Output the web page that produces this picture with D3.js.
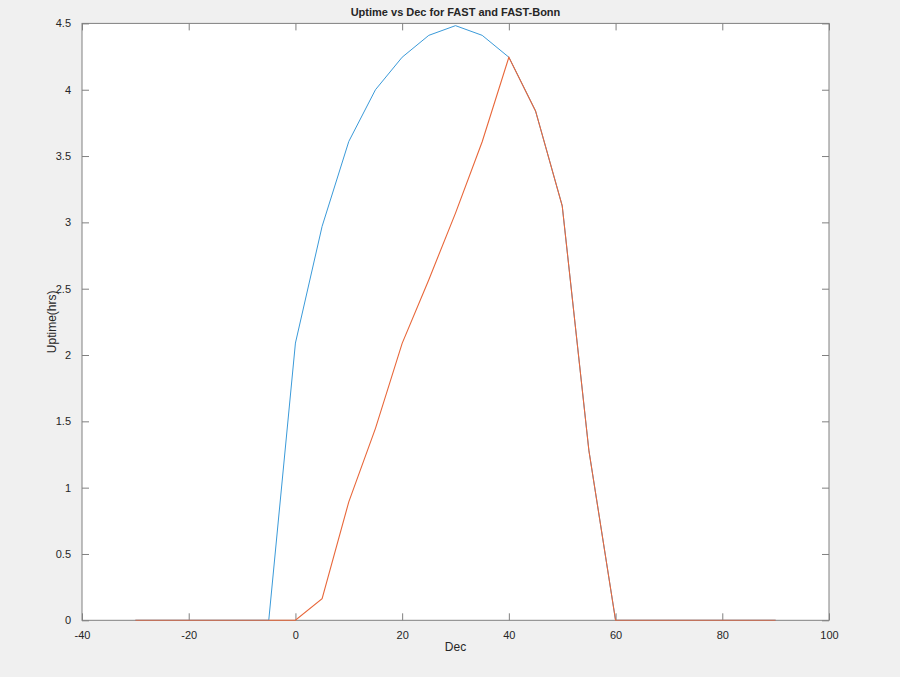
<!DOCTYPE html>
<html>
<head>
<meta charset="utf-8">
<script src="https://cdn.jsdelivr.net/npm/d3@7"></script>
<style>
  html, body { margin: 0; padding: 0; background: #f0f0f0; }
  svg { display: block; }
  text { font-family: "Liberation Sans", Arial, Helvetica, sans-serif; fill: #262626; }
</style>
</head>
<body>
<svg id="chart" width="900" height="677"></svg>
<script>
// Declination (degrees)
const dec = [-30, -25, -20, -15, -10, -5, 0, 5, 10, 15, 20, 25, 30, 35, 40, 45, 50, 55, 60, 65, 70, 75, 80, 85, 90];
// Uptime in hours for each declination
const uptimeFast     = [0, 0, 0, 0, 0, 0, 2.09, 2.97, 3.61, 4.0, 4.245, 4.41, 4.483, 4.41, 4.245, 3.84, 3.125, 1.28, 0, 0, 0, 0, 0, 0, 0];
const uptimeFastBonn = [0, 0, 0, 0, 0, 0, 0, 0.163, 0.893, 1.447, 2.088, 2.568, 3.07, 3.608, 4.245, 3.84, 3.125, 1.28, 0, 0, 0, 0, 0, 0, 0];

const xTicks = [-40, -20, 0, 20, 40, 60, 80, 100];
const yTicks = [0, 0.5, 1, 1.5, 2, 2.5, 3, 3.5, 4, 4.5];

const titleText = "Uptime vs Dec for FAST and FAST-Bonn";
const xLabel = "Dec";
const yLabel = "Uptime(hrs)";

const svg = d3.select("#chart");
const m = { left: 82, right: 900 - 829, top: 23.4, bottom: 677 - 620.3 };
const W = 900, H = 677;

const x = d3.scaleLinear().domain([-40, 100]).range([m.left, W - m.right]);
const y = d3.scaleLinear().domain([0, 4.5]).range([H - m.bottom, m.top]);

// plot background
svg.append("rect")
  .attr("x", x(-40)).attr("y", y(4.5))
  .attr("width", x(100) - x(-40)).attr("height", y(0) - y(4.5))
  .attr("fill", "#ffffff");

const axisColor = "#808080";
const tick = 7;
const plain = d => String(d);

function styleAxis(g) {
  g.select(".domain").remove();
  g.selectAll(".tick line").attr("stroke", axisColor);
  g.selectAll(".tick text").attr("fill", "#262626")
    .style("font-size", "11px")
    .style("font-family", "'Liberation Sans', Arial, sans-serif");
}

// bottom axis (ticks pointing in)
svg.append("g").attr("transform", `translate(0,${y(0)})`)
  .call(d3.axisBottom(x).tickValues(xTicks).tickFormat(plain).tickSizeInner(-tick).tickSizeOuter(0).tickPadding(11))
  .call(styleAxis);
// top axis ticks
svg.append("g").attr("transform", `translate(0,${y(4.5)})`)
  .call(d3.axisTop(x).tickValues(xTicks).tickFormat("").tickSizeInner(-tick).tickSizeOuter(0))
  .call(styleAxis);
// left axis
svg.append("g").attr("transform", `translate(${x(-40)},0)`)
  .call(d3.axisLeft(y).tickValues(yTicks).tickFormat(plain).tickSizeInner(-tick).tickSizeOuter(0).tickPadding(11))
  .call(styleAxis);
// right axis ticks
svg.append("g").attr("transform", `translate(${x(100)},0)`)
  .call(d3.axisRight(y).tickValues(yTicks).tickFormat("").tickSizeInner(-tick).tickSizeOuter(0))
  .call(styleAxis);

// axis box
svg.append("rect")
  .attr("x", x(-40)).attr("y", y(4.5))
  .attr("width", x(100) - x(-40)).attr("height", y(0) - y(4.5))
  .attr("fill", "none").attr("stroke", axisColor).attr("stroke-width", 1);

const line = d3.line().x((d, i) => x(dec[i])).y(d => y(d));

svg.append("path").datum(uptimeFast)
  .attr("d", line).attr("fill", "none")
  .attr("stroke", "#3a9ad9").attr("stroke-width", 1);
svg.append("path").datum(uptimeFastBonn)
  .attr("d", line).attr("fill", "none")
  .attr("stroke", "#e8673a").attr("stroke-width", 1.1);

// title and axis labels
svg.append("text")
  .attr("x", (x(-40) + x(100)) / 2).attr("y", 16)
  .attr("text-anchor", "middle")
  .style("font-size", "11px").style("font-weight", "bold")
  .text(titleText);

svg.append("text")
  .attr("x", (x(-40) + x(100)) / 2).attr("y", 651)
  .attr("text-anchor", "middle")
  .style("font-size", "12px")
  .text(xLabel);

svg.append("text")
  .attr("transform", `translate(56,${(y(0) + y(4.5)) / 2}) rotate(-90)`)
  .attr("text-anchor", "middle")
  .style("font-size", "12px")
  .text(yLabel);
</script>
</body>
</html>
